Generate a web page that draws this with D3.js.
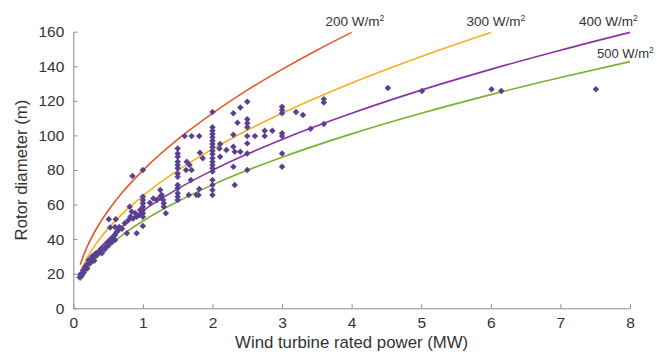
<!DOCTYPE html>
<html><head><meta charset="utf-8">
<script src="https://cdn.jsdelivr.net/npm/d3@7"></script>
<style>body{margin:0;background:#fff}svg{display:block}text{font-family:"Liberation Sans",Arial,sans-serif;fill:#333}</style>
</head><body><svg id="c" width="657" height="352"></svg>
<script>
const xTicks=[0,1,2,3,4,5,6,7,8];
const yTicks=[0,20,40,60,80,100,120,140,160];
const curveNames=["200","300","400","500"];
const curveColors=["#e8572a","#f4b122","#8a32a3","#78b22f"];
const curve200=[[0.1,25.2],[0.15,30.9],[0.2,35.7],[0.3,43.7],[0.4,50.5],[0.5,56.4],[0.7,66.8],[1,79.8],[1.5,97.7],[2,112.8],[2.5,126.2],[3,138.2],[3.5,149.3],[4,159.6]];
const curve300=[[0.1,20.6],[0.15,25.2],[0.2,29.1],[0.3,35.7],[0.4,41.2],[0.5,46.1],[0.7,54.5],[1,65.1],[1.5,79.8],[2,92.1],[2.5,103],[3,112.8],[4,130.3],[5,145.7],[6,159.6]];
const curve400=[[0.1,17.8],[0.15,21.9],[0.2,25.2],[0.3,30.9],[0.4,35.7],[0.5,39.9],[0.7,47.2],[1,56.4],[1.5,69.1],[2,79.8],[2.5,89.2],[3,97.7],[4,112.8],[5,126.2],[6,138.2],[7,149.3],[8,159.6]];
const curve500=[[0.1,16.0],[0.15,19.5],[0.2,22.6],[0.3,27.6],[0.4,31.9],[0.5,35.7],[0.7,42.2],[1,50.5],[1.5,61.8],[2,71.4],[2.5,79.8],[3,87.4],[4,100.9],[5,112.8],[6,123.6],[7,133.5],[8,142.7]];
const turbines=[
[0.09,17.9],[0.12,18.7],[0.1,19.5],[0.14,22],[0.15,20.5],[0.17,24],[0.2,23],[0.2,25.5],[0.22,26],[0.22,28],[0.25,28],[0.25,26.5],[0.27,30],[0.29,29.5],[0.3,31],[0.3,27.5],[0.33,32],[0.34,30.8],[0.38,32.7],[0.41,31.8],[0.4,34.5],[0.45,34],[0.46,35.6],[0.5,37.6],[0.5,36],[0.53,39],[0.55,38],[0.57,40.5],[0.6,42.4],[0.6,39.5],[0.53,46.8],[0.51,51.5],[0.61,51.5],[0.6,47],[0.65,45.3],[0.62,44],[0.66,47],[0.7,46],[0.74,49.2],[0.77,43.4],[0.79,51],[0.81,58.8],[0.84,55.9],[0.82,53],[0.89,55],[0.91,43.4],[0.91,53],[0.86,52],[0.96,56.9],[0.95,54],
[1,64.5],[1,62.6],[1,60.7],[1,58.8],[1,56.9],[1,55],[1,53],[1,47.6],[1,80],[0.85,76.5],
[1.15,63.5],[1.2,62.6],[1.25,64.5],[1.29,62.6],[1.3,60.7],[1.3,58.8],[1.33,55],[1.25,68.4],[1.27,65.5],[1.1,61],
[1.5,62.6],[1.5,64.5],[1.5,66.5],[1.5,69.4],[1.5,71.3],[1.5,76.1],[1.5,78],[1.5,81],[1.5,82.9],[1.5,84.8],[1.5,87.7],[1.5,89.6],[1.5,92.5],
[1.6,99.6],[1.7,99.6],[1.81,99.6],[1.63,84.8],[1.67,82.9],[1.7,80],[1.62,80],[1.66,65.5],[1.69,74.2],[1.8,65.5],[1.77,65.5],[1.81,69],[1.82,90],[1.86,86.8],
[2,113.5],[2,104.7],[2,102.7],[2,100.8],[2,98.9],[2,96.9],[2,95],[2,93.1],[2,91.2],[2,89.3],[2,86.8],[2,84.8],[2,82.9],[2,81],[2,79.1],[2,74.2],[2,71.3],[2,68.4],[2,65.5],
[2.11,95],[2.1,92.5],[2.11,87.7],[2.2,91.6],[2.3,112.8],[2.3,100.4],[2.3,93.5],[2.32,90.6],[2.3,81.9],[2.36,107.3],[2.4,116.2],[2.4,90.6],[2.32,71.3],
[2.5,119.5],[2.5,109.3],[2.5,107],[2.5,104.7],[2.5,99.6],[2.5,95.4],[2.5,89.6],[2.5,80],
[2.61,99.6],[2.75,102.7],[2.75,99.6],[2.86,102.7],
[3,116.6],[3,114.7],[3,112.8],[3,101.2],[3,99.6],[3,89.6],[3,81.9],
[3.2,113.5],[3.3,111.8],[3.41,103.9],[3.6,121],[3.6,119],[3.6,106.6],
[4.52,127.4],[5.01,125.7],[6.01,126.7],[6.15,125.7],[7.51,126.7]
];
const svg=d3.select("#c");
const x=d3.scaleLinear().domain([0,8]).range([73.3,630]);
const y=d3.scaleLinear().domain([0,160]).range([308.3,31.7]);
const axisColor="#8c8c8c";
const gx=svg.append("g").attr("transform",`translate(0,${y(0)})`)
  .call(d3.axisBottom(x).tickValues(xTicks).tickSize(-4).tickSizeOuter(0).tickPadding(9).tickFormat(d3.format("d")));
const gy=svg.append("g").attr("transform",`translate(${x(0)},0)`)
  .call(d3.axisLeft(y).tickValues(yTicks).tickSize(-4).tickSizeOuter(0).tickPadding(9).tickFormat(d3.format("d")));
[gx,gy].forEach(g=>{
  g.select(".domain").attr("stroke",axisColor);
  g.selectAll(".tick line").attr("stroke",axisColor);
  g.selectAll(".tick text").style("font-size","15.5px").attr("fill","#333").style("font-family",'"Liberation Sans",Arial,sans-serif');
});
const line=d3.line().x(d=>x(d[0])).y(d=>y(d[1])).curve(d3.curveMonotoneX);
[curve200,curve300,curve400,curve500].forEach((c,i)=>{
  svg.append("path").datum(c).attr("d",line).attr("fill","none").attr("stroke",curveColors[i]).attr("stroke-width",1.6);
});
const sym=d3.symbol().type(d3.symbolSquare).size(21);
svg.append("g").selectAll("path").data(turbines).join("path")
  .attr("d",sym).attr("fill","#5a4190")
  .attr("transform",d=>`translate(${x(d[0])},${y(d[1])}) rotate(45)`);
const labelPos=[[325.5,26],[466.5,26],[579,26],[597,57.5]];
const labelSize=[13.5,13.5,13.5,13];
curveNames.forEach((n,i)=>{
  const t=svg.append("text").attr("x",labelPos[i][0]).attr("y",labelPos[i][1]).style("font-size",labelSize[i]+"px").attr("fill","#333");
  t.append("tspan").text(n+" W/m");
  t.append("tspan").text("2").style("font-size","8.5px").attr("dy",-5);
});
svg.append("text").attr("x",(x(0)+x(8))/2).attr("y",348).attr("text-anchor","middle").style("font-size","16.8px").text("Wind turbine rated power (MW)");
svg.append("text").attr("transform",`translate(27,${(y(0)+y(160))/2}) rotate(-90)`).attr("text-anchor","middle").style("font-size","16.8px").text("Rotor diameter (m)");
</script></body></html>
